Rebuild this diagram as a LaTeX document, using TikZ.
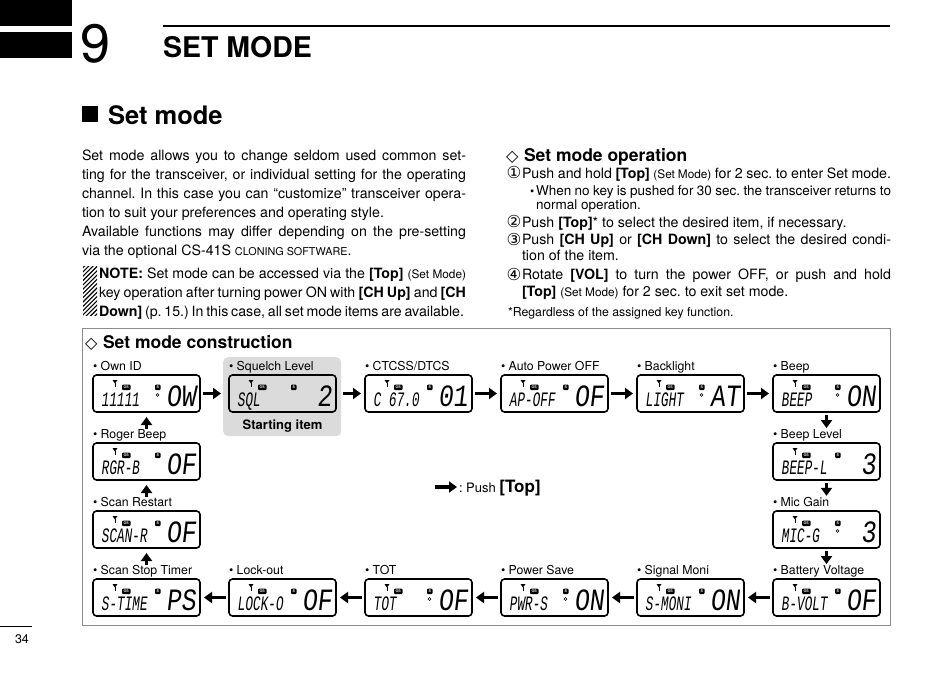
\documentclass[tikz,border=0pt]{standalone}
\usepackage{fontspec}
\setmainfont{TeX Gyre Heros}
\newfontfamily\symf{DejaVu Sans}
\newfontfamily\lcdS[FakeStretch=0.62,FakeSlant=0.12]{Liberation Mono}
\newfontfamily\lcdB[FakeStretch=0.8,FakeSlant=0.12]{Liberation Mono}
\usetikzlibrary{arrows.meta,calc}
\newcommand\fs[1]{\fontsize{#1}{#1}\selectfont}
\frenchspacing
\tikzset{
  txt/.style={anchor=base west, inner sep=0pt, outer sep=0pt, font=\fs{14.2}},
  lbl/.style={anchor=base west, inner sep=0pt, outer sep=0pt, font=\fs{12.3}},
  lcdbox/.style={draw=black, line width=1.6pt, rounded corners=3.5pt, minimum width=107pt,
    minimum height=37pt, inner sep=0pt, outer sep=0pt, anchor=north west},
  fat/.style={line width=3.6pt, -{Triangle[width=11pt,length=8pt]}},
  circ/.style={anchor=base west, inner sep=0pt, outer sep=0pt, font=\symf\fs{16.5}},
}
\newcommand\jl[5]{\node[txt] (#1) at (#2,#3) {\hbox to #4pt{#5}};}
\newcommand\lcd[6]{%
  \node[lcdbox] (#1) at (#2,#3) {};
  \node[anchor=base west, inner sep=0pt, font=\lcdS\fs{20.5}] (#1s) at ($(#1.south west)+(8,-6)$) {#4};
  \node[anchor=base east, inner sep=0pt, font=\lcdB\fs{31}] (#1b) at ($(#1.south east)+(-4,-6)$) {#5};
  \fill ($(#1.north west)+(19.5,5)$) -- ++(5,0) -- ++(-2.5,3.5) -- cycle;
  \draw[line width=0.7pt] ($(#1.north west)+(22,8)$) -- ++(0,4);
  \fill[rounded corners=1pt] ($(#1.north west)+(29,9.5)$) rectangle ++(8.5,5.5);
  \node[inner sep=0pt, text=white, font=\bfseries\fs{3.6}] (#1os) at ($(#1.north west)+(33.25,12.25)$) {OS};
  \fill[rounded corners=1pt] ($(#1.north west)+(62,9.5)$) rectangle ++(5.5,5.5);
  \node[inner sep=0pt, text=white, font=\bfseries\fs{3.6}] (#1ss) at ($(#1.north west)+(64.75,12.25)$) {S};
  \ifnum#6=1 \draw[line width=0.6pt] ($(#1.north west)+(64.5,20)$) circle[radius=1.5]; \fi
}
\newcommand\lab[4]{\node[lbl] (#1) at (#2,#3) {• #4};}
\begin{document}
\begin{tikzpicture}[x=1pt,y=-1pt]
\fill[white] (0,0) rectangle (950,672);
\useasboundingbox (0,0) rectangle (950,672);

% header
\fill (0,0) rectangle (72,26);
\fill (0,32) rectangle (72,58);
\node[txt, font=\fs{54}] (chap) at (80.5,62) {9};
\draw[line width=1.5pt] (163,26) -- (890,26);
\node[txt, font=\bfseries\fs{28.5}] (title) at (163,57) {SET MODE};
\fill (82,106) rectangle (98,122);
\node[txt, font=\bfseries\fs{25.5}] (sec) at (108,124) {Set mode};

% intro paragraph
\jl{t1}{82}{160.2}{384}{Set mode allows you to change seldom used common set-}
\jl{t2}{82}{179.2}{384}{ting for the transceiver, or individual setting for the operating}
\jl{t3}{82}{198.5}{384}{channel. In this case you can “customize” transceiver opera-}
\node[txt] (t4) at (82,217.5) {tion to suit your preferences and operating style.};
\jl{t5}{82}{236.5}{384}{Available functions may differ depending on the pre-setting}
\node[txt] (t6) at (82,255.8) {via the optional CS-41S {\fs{10.8}CLONING SOFTWARE}.};

% note
\begin{scope}
\clip (83,266) rectangle (97,315);
\foreach \k in {0,...,16} {\draw[line width=1.1pt] (80,262+\k*4.3) -- (100,242+\k*4.3);}
\end{scope}
\jl{n1}{99}{278.5}{367}{{\bfseries NOTE:} Set mode can be accessed via the {\bfseries [Top]} {\fs{11.8}(Set Mode)}}
\jl{n2}{99}{297}{367}{key operation after turning power ON with {\bfseries [CH Up]} and {\bfseries [CH}}
\jl{n3}{99}{316}{365}{{\bfseries Down]} (p. 15.) In this case, all set mode items are available.}

% set mode operation
\node[circ, font=\symf\fs{16}] (dia1) at (506,161) {◇};
\node[txt, font=\bfseries\fs{17.5}] (op) at (524,161) {Set mode operation};
\node[circ] (c1) at (506.5,178.5) {①};
\jl{r1}{522}{178}{369}{Push and hold {\bfseries [Top]} {\fs{11.8}(Set Mode)} for 2 sec. to enter Set mode.}
\node[txt, font=\fs{12}] (b1) at (530,195) {•};
\jl{r2}{536}{195}{355}{\fs{13.5}When no key is pushed for 30 sec. the transceiver returns to}
\node[txt, font=\fs{13.5}] (r3) at (536,209.5) {normal operation.};
\node[circ] (c2) at (506.5,227.5) {②};
\node[txt] (r4) at (522,227) {Push {\bfseries [Top]}* to select the desired item, if necessary.};
\node[circ] (c3) at (506.5,245) {③};
\jl{r5}{522}{244.5}{369}{Push {\bfseries [CH Up]} or {\bfseries [CH Down]} to select the desired condi-}
\node[txt] (r6) at (522,260) {tion of the item.};
\node[circ] (c4) at (506.5,280) {④};
\jl{r7}{522}{279.5}{369}{Rotate {\bfseries [VOL]} to turn the power OFF, or push and hold}
\node[txt] (r8) at (522,296) {{\bfseries [Top]} {\fs{11.8}(Set Mode)} for 2 sec. to exit set mode.};
\node[txt, font=\fs{12.3}] (r9) at (508,316) {*Regardless of the assigned key function.};

% construction frame
\draw[line width=1pt, black!45] (82,328) rectangle (890,625);
\node[circ, font=\symf\fs{16}] (dia2) at (85,348) {◇};
\node[txt, font=\bfseries\fs{17.5}] (cons) at (103,348) {Set mode construction};

% starting item background
\node[fill=black!14, rounded corners=5pt, minimum width=118pt, minimum height=79pt,
      inner sep=0pt, anchor=north west] (startbg) at (223,357) {};
\node[anchor=base, inner sep=0pt, font=\bfseries\fs{13}] (start) at (282.5,429) {Starting item};

% row 1
\lab{Lownid}{93}{370}{Own ID}
\lab{Lsql}{229}{370}{Squelch Level}
\lab{Lctcss}{365}{370}{CTCSS/DTCS}
\lab{Lapo}{501}{370}{Auto Power OFF}
\lab{Llight}{637}{370}{Backlight}
\lab{Lbeep}{773}{370}{Beep}
\lcd{ownid}{93}{375}{11111}{OW}{1}
\lcd{sql}{229}{375}{SQL}{2}{0}
\lcd{ctcss}{365}{375}{C 67.0}{01}{0}
\lcd{apo}{501}{375}{AP-OFF}{OF}{0}
\lcd{light}{637}{375}{LIGHT}{AT}{1}
\lcd{beep}{773}{375}{BEEP}{ON}{1}

% column 6
\lab{Lbeepl}{773}{438}{Beep Level}
\lcd{beepl}{773}{443}{BEEP-L}{3}{0}
\lab{Lmicg}{773}{506}{Mic Gain}
\lcd{micg}{773}{511}{MIC-G}{3}{1}
\lab{Lbvolt}{773}{574}{Battery Voltage}
\lcd{bvolt}{773}{579}{B-VOLT}{OF}{0}

% row 4
\lab{Lsmoni}{637}{574}{Signal Moni}
\lcd{smoni}{637}{579}{S-MONI}{ON}{0}
\lab{Lpwrs}{501}{574}{Power Save}
\lcd{pwrs}{501}{579}{PWR-S}{ON}{1}
\lab{Ltot}{365}{574}{TOT}
\lcd{tot}{365}{579}{TOT}{OF}{1}
\lab{Llock}{229}{574}{Lock-out}
\lcd{lock}{229}{579}{LOCK-O}{OF}{0}
\lab{Lstime}{93}{574}{Scan Stop Timer}
\lcd{stime}{93}{579}{S-TIME}{PS}{0}

% column 1
\lab{Lscanr}{93}{506}{Scan Restart}
\lcd{scanr}{93}{511}{SCAN-R}{OF}{0}
\lab{Lrgr}{93}{438}{Roger Beep}
\lcd{rgr}{93}{443}{RGR-B}{OF}{0}

% arrows
\draw[fat, shorten <=3pt, shorten >=8pt] (ownid.east) -- (sql.west);
\draw[fat, shorten <=7pt, shorten >=4pt] (sql.east) -- (ctcss.west);
\draw[fat, shorten <=3pt, shorten >=4pt] (ctcss.east) -- (apo.west);
\draw[fat, shorten <=3pt, shorten >=4pt] (apo.east) -- (light.west);
\draw[fat, shorten <=3pt, shorten >=4pt] (light.east) -- (beep.west);
\draw[fat, shorten <=3pt, shorten >=1pt] (beep.south) -- (beep.south |- Lbeepl.north);
\draw[fat, shorten <=3pt, shorten >=1pt] (beepl.south) -- (beepl.south |- Lmicg.north);
\draw[fat, shorten <=3pt, shorten >=1pt] (micg.south) -- (micg.south |- Lbvolt.north);
\draw[fat, shorten <=3pt, shorten >=4pt] (bvolt.west) -- (smoni.east);
\draw[fat, shorten <=3pt, shorten >=4pt] (smoni.west) -- (pwrs.east);
\draw[fat, shorten <=3pt, shorten >=4pt] (pwrs.west) -- (tot.east);
\draw[fat, shorten <=3pt, shorten >=4pt] (tot.west) -- (lock.east);
\draw[fat, shorten <=3pt, shorten >=4pt] (lock.west) -- (stime.east);
\draw[fat, shorten >=5pt] (stime.north |- Lstime.north) -- (scanr.south);
\draw[fat, shorten >=5pt] (scanr.north |- Lscanr.north) -- (rgr.south);
\draw[fat, shorten >=5pt] (rgr.north |- Lrgr.north) -- (ownid.south);

% legend
\coordinate (lg1) at (435,487);
\coordinate (lg2) at (457,487);
\draw[fat] (lg1) -- (lg2);
\node[txt, font=\fs{13}] (leg) at (459,492) {: Push {\bfseries\fs{17}[Top]}};

% page number
\draw[line width=0.8pt] (0,626) -- (32,626);
\node[txt, font=\fs{12.5}] (page) at (15,643) {34};
\end{tikzpicture}
\end{document}
